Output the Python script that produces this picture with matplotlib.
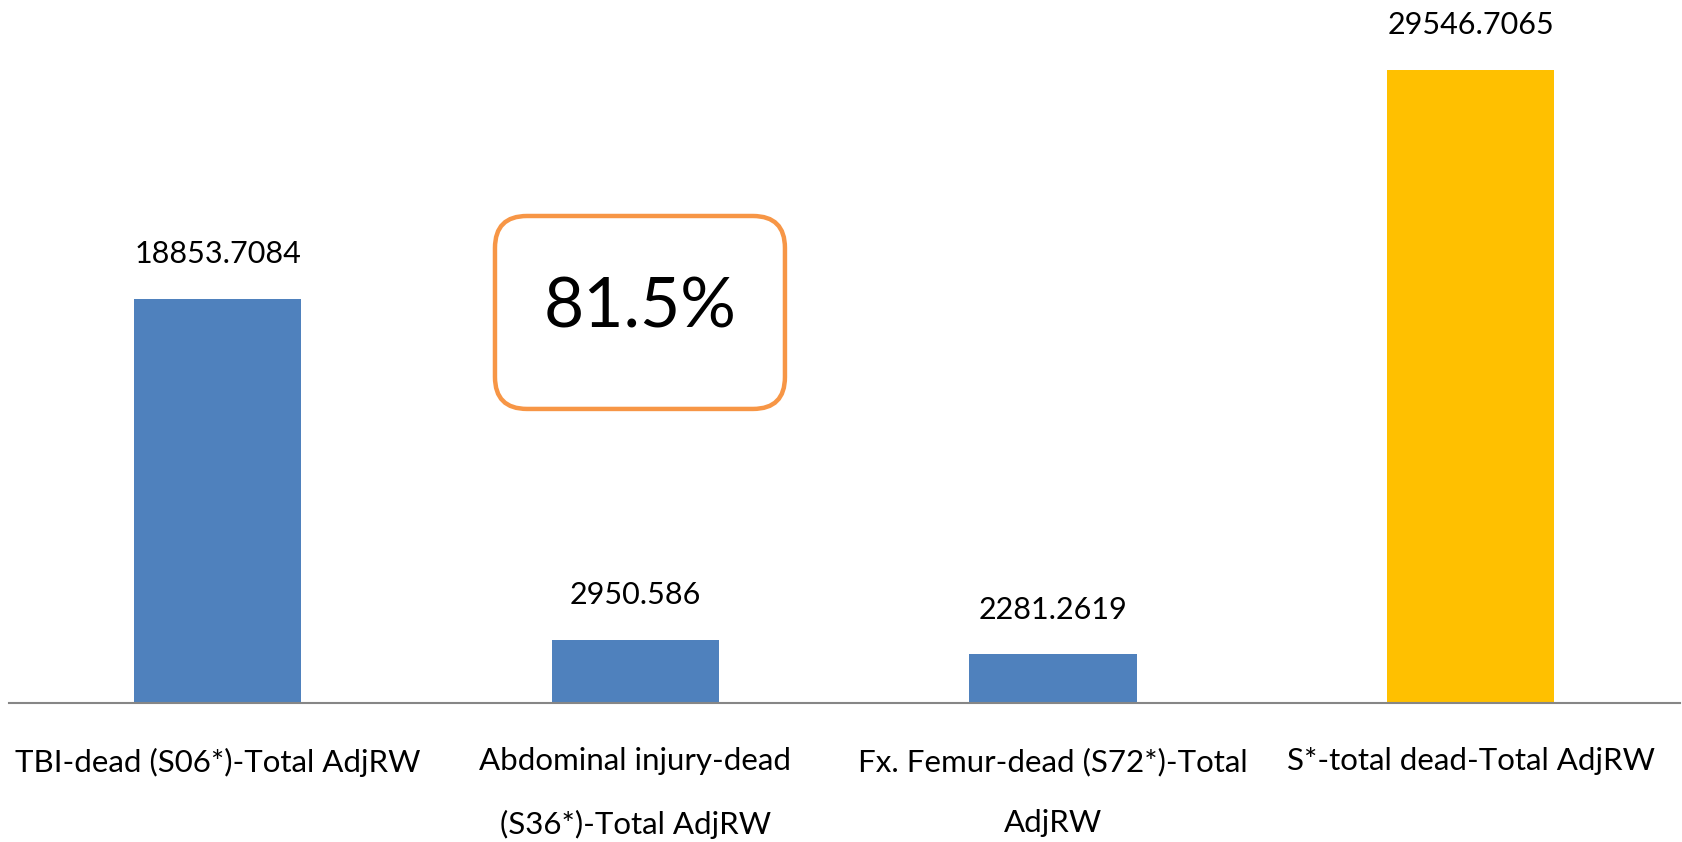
from matplotlib import pyplot as plt
from matplotlib.patches import FancyBboxPatch

plt.rcParams['font.family'] = ['Lato', 'DejaVu Sans']

# данные
categories = ['TBI-dead (S06*)-Total AdjRW',
              'Abdominal injury-dead\n(S36*)-Total AdjRW',
              'Fx. Femur-dead (S72*)-Total\nAdjRW',
              'S*-total dead-Total AdjRW']
values = [18853.7084, 2950.586, 2281.2619, 29546.7065]
value_labels = ['18853.7084', '2950.586', '2281.2619', '29546.7065']
colors = ['#4F81BD', '#4F81BD', '#4F81BD', '#FFC000']
share_text = '81.5%'

fig = plt.figure(figsize=(16.83, 8.42), dpi=100)
ax = fig.add_axes([0.0051, 0.1651, 0.9929, 0.8349])

x = range(len(values))
ax.bar(x, values, width=0.4, color=colors, zorder=2)

for xi, v, lab in zip(x, values, value_labels):
    ax.annotate(lab, (xi, v), xytext=(0, 32), textcoords='offset points',
                ha='center', va='center', fontsize=22, color='#000000')

ax.set_xlim(-0.5, 3.5)
ax.set_ylim(0, 32800)
ax.set_yticks([])
ax.set_xticks(list(x))
ax.set_xticklabels(categories, fontsize=22.5, linespacing=2.45, color='#000000')
ax.tick_params(axis='x', length=0, pad=32)

for s in ['top', 'left', 'right']:
    ax.spines[s].set_visible(False)
ax.spines['bottom'].set_color('#868686')
ax.spines['bottom'].set_linewidth(1.5)
ax.spines['bottom'].set_zorder(3)

# рамка с процентом
box = FancyBboxPatch((0.2941 + 0.019, 0.5143 + 0.038), 0.1723 - 0.038, 0.2292 - 0.076,
                     boxstyle='round,pad=0.019,rounding_size=0.019',
                     mutation_aspect=1683 / 842,
                     transform=fig.transFigure, facecolor='white',
                     edgecolor='#F79646', linewidth=3.2)
fig.patches.append(box)
fig.text(0.3803, 0.634, share_text, ha='center', va='center', fontsize=50, color='#000000')

fig.savefig('out.png', dpi=100)
